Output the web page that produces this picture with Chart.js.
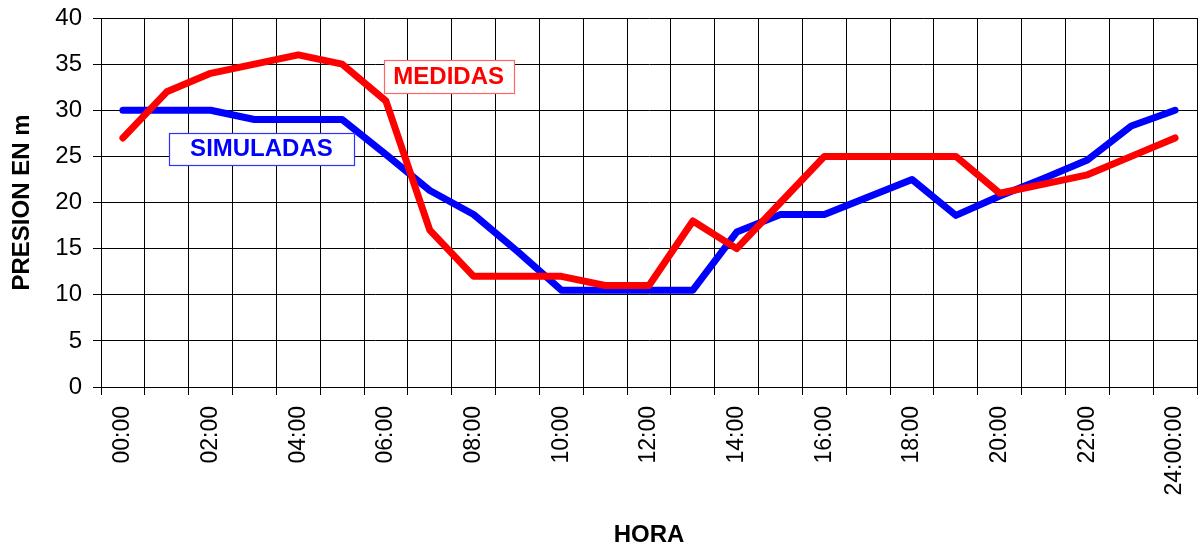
<!DOCTYPE html>
<html><head><meta charset="utf-8">
<script src="https://cdn.jsdelivr.net/npm/chart.js@4.4.1/dist/chart.umd.min.js"></script>
<style>html,body{margin:0;padding:0;background:#fff;}#wrap{width:1202px;height:553px;}</style>
</head><body><div id="wrap"><canvas id="c" width="1202" height="553"></canvas></div>
<script>
const hours = ['00:00','01:00','02:00','03:00','04:00','05:00','06:00','07:00','08:00','09:00','10:00','11:00','12:00','13:00','14:00','15:00','16:00','17:00','18:00','19:00','20:00','21:00','22:00','23:00','24:00:00'];
const medidas = [27,32,34,35,36,35,31,17,12,12,12,11,11,18,15,20,25,25,25,25,21,22,23,25,27];
const simuladas = [30,30,30,29,29,29,25.2,21.3,18.7,14.7,10.5,10.5,10.5,10.5,16.8,18.7,18.7,20.6,22.5,18.6,20.7,22.6,24.6,28.3,30];
const yTicks = [0,5,10,15,20,25,30,35,40];
const boxLabels = [
  {text:'SIMULADAS', x:3.16, y:25.85, color:'#0000ff', border:'#3030ff', w:185, h:32},
  {text:'MEDIDAS', x:7.43, y:33.65, color:'#ff0000', border:'#ff6666', w:130, h:33}
];
const FONT = '"Liberation Sans", Arial, sans-serif';

const boxPlugin = {
  id:'boxLabels',
  afterDatasetsDraw(chart){
    const ctx = chart.ctx, xs = chart.scales.x, ys = chart.scales.y;
    ctx.save();
    ctx.font = 'bold 24px ' + FONT;
    ctx.textAlign='center'; ctx.textBaseline='middle';
    boxLabels.forEach(b=>{
      const cx = xs.getPixelForValue(b.x), cy = ys.getPixelForValue(b.y);
      const x0 = Math.round(cx - b.w/2)+0.5, y0 = Math.round(cy - b.h/2)+0.5;
      ctx.fillStyle='#fff'; ctx.fillRect(x0,y0,b.w,b.h);
      ctx.strokeStyle=b.border; ctx.lineWidth=1.2; ctx.strokeRect(x0,y0,b.w,b.h);
      ctx.fillStyle=b.color; ctx.fillText(b.text,cx,cy+1);
    });
    ctx.restore();
  }
};

new Chart(document.getElementById('c'),{
  type:'line',
  data:{labels:hours,datasets:[
    {label:'MEDIDAS',data:medidas,borderColor:'#ff0000',borderWidth:7,pointRadius:0,tension:0,borderCapStyle:'round',borderJoinStyle:'round',fill:false},
    {label:'SIMULADAS',data:simuladas,borderColor:'#0000ff',borderWidth:7,pointRadius:0,tension:0,borderCapStyle:'round',borderJoinStyle:'round',fill:false}
  ]},
  options:{
    responsive:false,animation:false,
    layout:{padding:{top:18,right:5,bottom:0,left:0}},
    plugins:{legend:{display:false},tooltip:{enabled:false}},
    scales:{
      x:{
        type:'category',offset:true,
        grid:{offset:true,color:'#000',lineWidth:1,tickLength:8,drawTicks:true},
        border:{color:'#000',width:1},
        ticks:{autoSkip:false,maxRotation:90,minRotation:90,color:'#000',padding:11,
          font:{family:FONT,size:23},
          callback:(v,i)=> i%2===0 ? hours[i] : ''},
        title:{display:true,text:'HORA',color:'#000',font:{family:FONT,size:24,weight:'bold'},padding:{top:0,bottom:3}},
        afterFit(s){s.height=166; s.paddingLeft=0; s.paddingRight=0;}
      },
      y:{
        min:0,max:40,
        afterBuildTicks(s){s.ticks = yTicks.map(v=>({value:v}));},
        grid:{color:'#000',lineWidth:1,tickLength:8},
        border:{color:'#000',width:1},
        ticks:{color:'#000',padding:11,font:{family:FONT,size:24}},
        title:{display:true,text:'PRESION EN m',color:'#000',font:{family:FONT,size:24,weight:'bold'},padding:{top:8,bottom:0}},
        afterFit(s){s.width=101; s.paddingTop=0; s.paddingBottom=0;}
      }
    }
  },
  plugins:[boxPlugin]
});
</script></body></html>
